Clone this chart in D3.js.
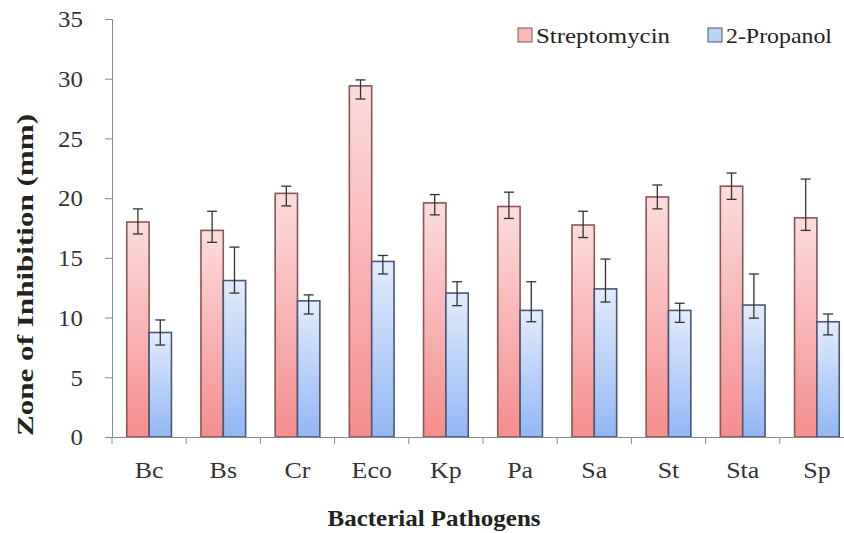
<!DOCTYPE html>
<html>
<head>
<meta charset="utf-8">
<script src="https://cdn.jsdelivr.net/npm/d3@7"></script>
<style>
  body { margin: 0; background: #fff; }
  text { font-family: "Liberation Serif", "Times New Roman", serif; }
</style>
</head>
<body>
<script>
//-----------------Data----------------
const pathogens = ["Bc", "Bs", "Cr", "Eco", "Kp", "Pa", "Sa", "St", "Sta", "Sp"];
const seriesNames = ["Streptomycin", "2-Propanol"];
const streptomycin = [18.0, 17.3, 20.4, 29.4, 19.6, 19.3, 17.75, 20.1, 21.0, 18.35];
const streptoUpper = [19.1, 18.9, 21.0, 29.9, 20.3, 20.5, 18.9, 21.1, 22.1, 21.6];
const streptoLower = [17.0, 16.3, 19.35, 28.3, 18.6, 18.3, 16.7, 19.1, 19.9, 17.3];
const propanol = [8.75, 13.1, 11.4, 14.7, 12.05, 10.6, 12.4, 10.6, 11.05, 9.65];
const propanolUpper = [9.8, 15.9, 11.9, 15.2, 13.0, 13.0, 14.9, 11.2, 13.65, 10.3];
const propanolLower = [7.7, 12.05, 10.3, 13.65, 11.0, 9.65, 11.3, 9.6, 9.95, 8.55];
const yTicks = [0, 5, 10, 15, 20, 25, 30, 35];

//-----------------SVG----------------
const width = 844;
const height = 533;
const plotLeft = 112, plotRight = 854, plotTop = 19, plotBottom = 437;

const svg = d3.select("body").append("svg").attr("width", width).attr("height", height);

const defs = svg.append("defs");
function gradient(id, topColor, bottomColor) {
  const g = defs.append("linearGradient").attr("id", id).attr("x1", 0).attr("y1", 0).attr("x2", 0).attr("y2", 1);
  g.append("stop").attr("offset", "0%").attr("stop-color", topColor);
  g.append("stop").attr("offset", "100%").attr("stop-color", bottomColor);
}
gradient("redGrad", "#fcdcdd", "#f58d8d");
gradient("blueGrad", "#e2ecfc", "#92b7f4");

const series = [
  { name: seriesNames[0], values: streptomycin, hi: streptoUpper, lo: streptoLower, fill: "url(#redGrad)", stroke: "#8a5656", key: "#f6b8b8" },
  { name: seriesNames[1], values: propanol, hi: propanolUpper, lo: propanolLower, fill: "url(#blueGrad)", stroke: "#4a5872", key: "#bcd2f2" }
];

//---------------Scales---------------------
const xScale = d3.scaleBand().domain(pathogens).range([plotLeft, plotRight]).paddingInner(0).paddingOuter(0);
const inner = d3.scaleBand().domain(seriesNames).range([0, xScale.bandwidth()]).paddingInner(0).paddingOuter(0.66);
const yScale = d3.scaleLinear().domain([0, 35]).range([plotBottom, plotTop]);

//------------Axis----------------
const yAxis = d3.axisLeft(yScale).tickValues(yTicks).tickSize(7).tickPadding(20);
const gy = svg.append("g").attr("transform", "translate(" + plotLeft + ",0)").call(yAxis);
gy.select(".domain").attr("stroke", "#8a8a8a");
gy.selectAll(".tick line").attr("stroke", "#8a8a8a");
gy.selectAll(".tick text")
  .attr("font-size", 23)
  .attr("fill", "#333")
  .attr("dy", "0.34em")
  .attr("transform", "scale(1.08,1)");

//-------------Bars----------------
series.forEach((s) => {
  const g = svg.append("g");
  g.selectAll("rect")
    .data(pathogens)
    .enter()
    .append("rect")
    .attr("x", (d) => xScale(d) + inner(s.name))
    .attr("width", inner.bandwidth())
    .attr("y", (d, i) => yScale(s.values[i]))
    .attr("height", (d, i) => yScale(0) - yScale(s.values[i]))
    .attr("fill", s.fill)
    .attr("stroke", s.stroke)
    .attr("stroke-width", 1.6);
});

// error bars
series.forEach((s) => {
  const g = svg.append("g").attr("stroke", "#333").attr("stroke-width", 1.3);
  pathogens.forEach((d, i) => {
    const cx = xScale(d) + inner(s.name) + inner.bandwidth() / 2;
    g.append("line").attr("x1", cx).attr("x2", cx).attr("y1", yScale(s.hi[i])).attr("y2", yScale(s.lo[i]));
    g.append("line").attr("x1", cx - 5).attr("x2", cx + 5).attr("y1", yScale(s.hi[i])).attr("y2", yScale(s.hi[i]));
    g.append("line").attr("x1", cx - 5).attr("x2", cx + 5).attr("y1", yScale(s.lo[i])).attr("y2", yScale(s.lo[i]));
  });
});

const xAxis = d3.axisBottom(xScale).tickSize(0).tickPadding(0);
const gx = svg.append("g").attr("transform", "translate(0," + plotBottom + ")").call(xAxis);
gx.select(".domain").attr("stroke", "#8a8a8a");
gx.selectAll(".tick text")
  .attr("font-size", 24)
  .attr("fill", "#333")
  .attr("dy", null)
  .attr("y", 41)
  .attr("transform", "scale(1.08,1)");
// boundary ticks between categories
gx.selectAll(".sep")
  .data(pathogens)
  .enter()
  .append("line")
  .attr("x1", (d) => xScale(d))
  .attr("x2", (d) => xScale(d))
  .attr("y1", 0)
  .attr("y2", 7)
  .attr("stroke", "#8a8a8a");

//----------------Titles-----------------
svg.append("text")
  .attr("transform", "translate(33,275) rotate(-90)")
  .style("text-anchor", "middle")
  .attr("font-size", 24)
  .attr("font-weight", "bold")
  .attr("fill", "#222")
  .attr("textLength", 322)
  .attr("lengthAdjust", "spacingAndGlyphs")
  .text("Zone of Inhibition  (mm)");

svg.append("text")
  .attr("x", 434)
  .attr("y", 526)
  .style("text-anchor", "middle")
  .attr("font-size", 23)
  .attr("font-weight", "bold")
  .attr("fill", "#222")
  .attr("textLength", 213)
  .attr("lengthAdjust", "spacingAndGlyphs")
  .text("Bacterial Pathogens");

//-----------Legend--------------
const legendX = [518, 708];
const legendLen = [134, 106];
series.forEach((s, i) => {
  const lg = svg.append("g").attr("transform", "translate(" + legendX[i] + ",28)");
  lg.append("rect").attr("width", 14).attr("height", 14).attr("fill", s.key).attr("stroke", s.stroke).attr("stroke-width", 1);
  lg.append("text")
    .attr("x", 18)
    .attr("y", 15)
    .attr("font-size", 22)
    .attr("fill", "#222")
    .attr("textLength", legendLen[i])
    .attr("lengthAdjust", "spacingAndGlyphs")
    .text(s.name);
});
</script>
</body>
</html>
